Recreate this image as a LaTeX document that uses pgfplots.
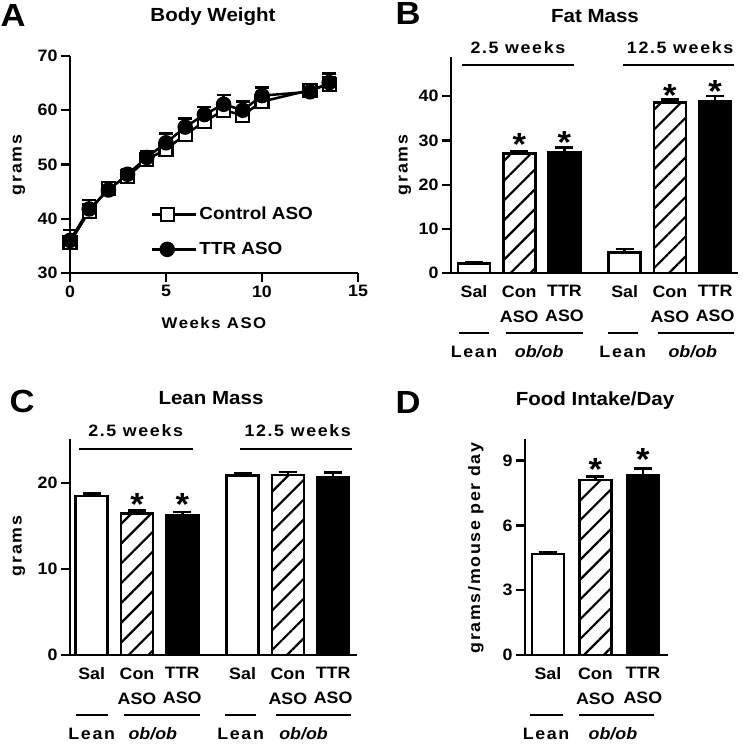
\documentclass[border=0pt]{standalone}
\usepackage{fontspec}
\setmainfont{Liberation Sans}[FakeStretch=1.08]
\newfontfamily\spaced{Liberation Sans}[FakeStretch=1.08,LetterSpace=10]
\usepackage{pgfplots}
\pgfplotsset{compat=1.18}
\usetikzlibrary{patterns.meta}
\newcommand\fs[1]{\fontsize{#1}{#1}\selectfont}
\pgfplotsset{
  myaxis/.style={
    scale only axis,
    anchor=south west,
    axis x line*=bottom, axis y line*=left,
    axis line style={-, line width=2.5pt, black},
    tick align=outside,
    major tick length=9pt,
    every tick/.style={black, line width=2.3pt},
    tick label style={font=\fs{16.5}\bfseries},
    /pgf/number format/assume math mode=true,
    clip=false,
  },
  barax/.style={
    myaxis,
    ybar, bar width=32pt, bar shift=0pt,
    ymin=0,
    xtick={1,2,3,4.333,5.333,6.333},
    xtick style={draw=none},
    xticklabel style={align=center, font=\fontsize{16.5}{25}\selectfont\bfseries},
    xticklabels={Sal,Con\\ASO,TTR\\ASO,Sal,Con\\ASO,TTR\\ASO},
  },
  errb/.style={error bars/.cd, y dir=plus, y explicit,
    error mark=-,
    error bar style={line width=2.5pt, black, solid},
    error mark options={rotate=90, line width=2.5pt, mark size=9pt, black, solid}},
  errA/.style={error bars/.cd, y dir=plus, y explicit,
    error mark=-,
    error bar style={line width=2.5pt, black, solid},
    error mark options={rotate=90, line width=2.5pt, mark size=7pt, black, solid}},
  whitebar/.style={draw=black, fill=white, line width=2.5pt},
  hatchbar/.style={draw=black, line width=2.5pt, pattern={Lines[angle=45,distance=14pt,line width=2.2pt]}},
  blackbar/.style={draw=black, fill=black, line width=2.5pt},
}
\tikzset{
  star/.style={anchor=base, yshift=-18pt, inner sep=0pt, font=\fs{32}\bfseries},
  ln/.style={line width=2.5pt, black},
  cat/.style={anchor=base, inner sep=0pt, font=\spaced\fs{16.5}\bfseries},
  ob/.style={anchor=base, inner sep=0pt, font=\fs{16.5}\bfseries\itshape},
}
\begin{document}
\bfseries
\begin{tikzpicture}
\useasboundingbox (0,0) rectangle (742pt,744pt);

% ---------------- A ----------------
\begin{axis}[myaxis, at={(70pt,471pt)}, width=288pt, height=217pt,
  xmin=0, xmax=15, ymin=30, ymax=70,
  xtick={0,5,10,15}, ytick={30,40,50,60,70},
  legend style={at={(0.27,0.19)}, anchor=west, draw=none, fill=none,
    font=\fs{17.5}\bfseries, row sep=17pt},
  legend cell align=left,
  legend image code/.code={\draw[mark repeat=2,mark phase=2,#1] plot coordinates {(0pt,0pt) (15pt,0pt) (30pt,0pt)}; \path (30pt,0pt) -- (44pt,0pt);},
]
\addplot[black, line width=2.5pt, mark=square*, mark size=6.5pt,
  mark options={fill=white, line width=2.2pt, solid}, errA]
  coordinates {
  (0,35.6) +- (0,1.0)
  (1,41.4) +- (0,1.2)
  (2,45.6) +- (0,0.9)
  (3,47.8) +- (0,0.9)
  (4,50.9) +- (0,1.1)
  (5,52.8) +- (0,1.2)
  (6,55.5) +- (0,1.2)
  (7,57.9) +- (0,1.2)
  (8,60.0) +- (0,1.2)
  (9,59.1) +- (0,1.2)
  (10,61.6) +- (0,1.2)
  (12.5,63.7) +- (0,0.9)
  (13.5,64.8) +- (0,1.2)
  };
\addlegendentry{Control ASO}
\addplot[black, line width=2.5pt, mark=*, mark size=6.5pt,
  mark options={fill=black, solid}, errA]
  coordinates {
  (0,36.0) +- (0,1.9)
  (1,41.8) +- (0,1.7)
  (2,45.3) +- (0,1.0)
  (3,48.2) +- (0,1.0)
  (4,51.3) +- (0,1.2)
  (5,54.0) +- (0,1.7)
  (6,56.9) +- (0,1.6)
  (7,59.2) +- (0,1.4)
  (8,61.1) +- (0,1.7)
  (9,60.0) +- (0,1.6)
  (10,62.7) +- (0,1.5)
  (12.5,63.4) +- (0,1.0)
  (13.5,65.1) +- (0,1.7)
  };
\addlegendentry{TTR ASO}
\end{axis}

% ---------------- B ----------------
\begin{axis}[barax, at={(451pt,471pt)}, width=287pt, height=216pt,
  xmin=0.49, xmax=6.84, ymax=48.9, ytick={0,10,20,30,40}]
\addplot[whitebar, errb] coordinates {(1,2.1) +- (0,0.4) (4.333,4.6) +- (0,0.8)};
\addplot[hatchbar, errb] coordinates {(2,27.0) +- (0,0.6) (5.333,38.6) +- (0,0.7)};
\addplot[blackbar, errb] coordinates {(3,27.3) +- (0,1.1) (6.333,38.9) +- (0,1.2)};
\node[star] at (axis cs:2,30.6) {*};
\node[star] at (axis cs:3,31.2) {*};
\node[star] at (axis cs:5.333,41.7) {*};
\node[star] at (axis cs:6.333,42.6) {*};
\draw[ln] (axis cs:0.733,47.1) -- (axis cs:3.21,47.1);
\draw[ln] (axis cs:4.29,47.1) -- (axis cs:6.75,47.1);
\node[cat] at (axis cs:1.97,49.8) {2.5 weeks};
\node[cat] at (axis cs:5.56,49.8) {12.5 weeks};
\draw[ln] (axis cs:0.666,-13.6) -- (axis cs:1.33,-13.6);
\draw[ln] (axis cs:1.706,-13.6) -- (axis cs:3.41,-13.6);
\draw[ln] (axis cs:3.96,-13.6) -- (axis cs:4.63,-13.6);
\draw[ln] (axis cs:5.07,-13.6) -- (axis cs:6.75,-13.6);
\node[cat] at (axis cs:1.0,-19.2) {Lean};
\node[ob] at (axis cs:2.44,-19.2) {ob/ob};
\node[cat] at (axis cs:4.29,-19.2) {Lean};
\node[ob] at (axis cs:5.84,-19.2) {ob/ob};
\end{axis}

% ---------------- C ----------------
\begin{axis}[barax, at={(70pt,89pt)}, width=287pt, height=216pt,
  xmin=0.52, xmax=6.86, ymax=25.1, ytick={0,10,20}]
\addplot[whitebar, errb] coordinates {(1,18.5) +- (0,0.25) (4.333,20.85) +- (0,0.25)};
\addplot[hatchbar, errb] coordinates {(2,16.45) +- (0,0.35) (5.333,20.9) +- (0,0.35)};
\addplot[blackbar, errb] coordinates {(3,16.2) +- (0,0.4) (6.333,20.7) +- (0,0.5)};
\node[star] at (axis cs:2,18.3) {*};
\node[star] at (axis cs:3,18.3) {*};
\draw[ln] (axis cs:0.713,23.95) -- (axis cs:3.23,23.95);
\draw[ln] (axis cs:4.27,23.95) -- (axis cs:6.76,23.95);
\node[cat] at (axis cs:1.97,25.35) {2.5 weeks};
\node[cat] at (axis cs:5.55,25.35) {12.5 weeks};
\draw[ln] (axis cs:0.65,-6.98) -- (axis cs:1.35,-6.98);
\draw[ln] (axis cs:1.71,-6.98) -- (axis cs:3.4,-6.98);
\draw[ln] (axis cs:3.94,-6.98) -- (axis cs:4.62,-6.98);
\draw[ln] (axis cs:5.06,-6.98) -- (axis cs:6.72,-6.98);
\node[cat] at (axis cs:1.0,-9.77) {Lean};
\node[ob] at (axis cs:2.35,-9.77) {ob/ob};
\node[cat] at (axis cs:4.29,-9.77) {Lean};
\node[ob] at (axis cs:5.68,-9.77) {ob/ob};
\end{axis}

% ---------------- D ----------------
\begin{axis}[barax, at={(525pt,89pt)}, width=143pt, height=216pt,
  xmin=0.516, xmax=3.53, ymax=10, ytick={0,3,6,9},
  xtick={1,2,3}, xticklabels={Sal,Con\\ASO,TTR\\ASO}]
\addplot[whitebar, errb] coordinates {(1,4.68) +- (0,0.1)};
\addplot[hatchbar, errb] coordinates {(2,8.1) +- (0,0.17)};
\addplot[blackbar, errb] coordinates {(3,8.33) +- (0,0.3)};
\node[star] at (axis cs:2,8.9) {*};
\node[star] at (axis cs:3,9.37) {*};
\draw[ln] (axis cs:0.63,-2.77) -- (axis cs:1.32,-2.77);
\draw[ln] (axis cs:1.65,-2.77) -- (axis cs:3.23,-2.77);
\node[cat] at (axis cs:0.96,-3.92) {Lean};
\node[ob] at (axis cs:2.37,-3.92) {ob/ob};
\end{axis}

% ---------------- titles, letters, labels ----------------
\node[anchor=base, font=\fs{32}\bfseries, inner sep=0pt] at (13pt,717pt) {A};
\node[anchor=base, font=\fs{32}\bfseries, inner sep=0pt] at (408pt,719pt) {B};
\node[anchor=base, font=\fs{32}\bfseries, inner sep=0pt] at (22pt,331pt) {C};
\node[anchor=base, font=\fs{32}\bfseries, inner sep=0pt] at (408pt,330pt) {D};
\node[anchor=base, font=\fs{19}\bfseries, inner sep=0pt] at (213pt,722pt) {Body Weight};
\node[anchor=base, font=\fs{19}\bfseries, inner sep=0pt] at (595pt,721pt) {Fat Mass};
\node[anchor=base, font=\fs{19}\bfseries, inner sep=0pt] at (211pt,339pt) {Lean Mass};
\node[anchor=base, font=\fs{19}\bfseries, inner sep=0pt] at (595pt,338pt) {Food Intake/Day};
\node[anchor=base, font=\spaced\fs{15.5}\bfseries, inner sep=0pt] at (214pt,415pt) {Weeks ASO};
\node[rotate=90, font=\spaced\fs{16.5}\bfseries, inner sep=0pt] at (19pt,579pt) {grams};
\node[rotate=90, font=\spaced\fs{16.5}\bfseries, inner sep=0pt] at (405pt,579pt) {grams};
\node[rotate=90, font=\spaced\fs{16.5}\bfseries, inner sep=0pt] at (19pt,198pt) {grams};
\node[rotate=90, font=\spaced\fs{16.5}\bfseries, inner sep=0pt] at (476pt,196pt) {grams/mouse per day};
\end{tikzpicture}
\end{document}
